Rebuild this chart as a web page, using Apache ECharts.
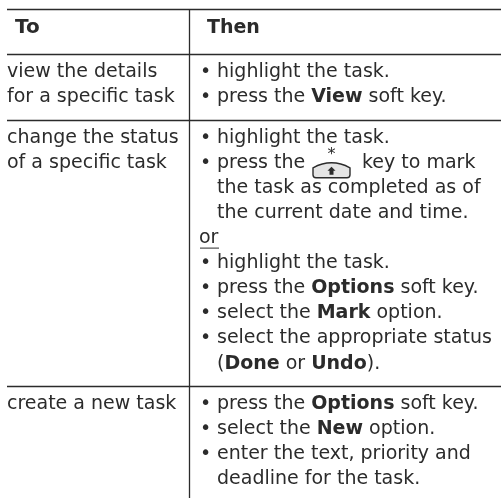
<!DOCTYPE html>
<html>
<head>
<meta charset="utf-8">
<style>html,body{margin:0;padding:0;background:#fff}#main{width:501px;height:498px}</style>
<script src="https://cdn.jsdelivr.net/npm/echarts@6/dist/echarts.min.js"></script>
</head>
<body>
<div id="main"></div>
<script>
// table text, one list per column, ** marks bold, "- " marks a bullet
var headers = ['To', 'Then'];
var taskRows = [
    ['view the details', 'for a specific task'],
    ['change the status', 'of a specific task'],
    ['create a new task']
];
var stepRows = [
    ['- highlight the task.', '- press the **View** soft key.'],
    ['- highlight the task.', '- press the @key key to mark', '  the task as completed as of', '  the current date and time.', '_or', '- highlight the task.', '- press the **Options** soft key.', '- select the **Mark** option.', '- select the appropriate status', '  (**Done** or **Undo**).'],
    ['- press the **Options** soft key.', '- select the **New** option.', '- enter the text, priority and', '  deadline for the task.']
];

var INK = '#2b2b2b';
var FONT = '"DejaVu Sans"';
var SIZE = 19;
var LINE_H = 25.1;
var TOP = 9, HEAD_BOTTOM = 54, COL_X = 189;

// rich text pieces from **bold** markup
function toRich(s) {
    return s.split('**').map(function (p, i) {
        if (!p) return '';
        return (i % 2 ? '{b|' : '{n|') + p + '}';
    }).join('');
}

// flatten rows into line records
var lines = [];
var rules = [TOP, HEAD_BOTTOM];
var rowTop = HEAD_BOTTOM;
stepRows.forEach(function (steps, r) {
    taskRows[r].forEach(function (t, i) {
        lines.push({ x: 7, y: rowTop + 18 + i * LINE_H, text: t });
    });
    steps.forEach(function (t, i) {
        lines.push({ x: 199, y: rowTop + 18 + i * LINE_H, text: t });
    });
    rowTop += steps.length * LINE_H + 15.5;
    if (r < stepRows.length - 1) rules.push(Math.round(rowTop));
});

var myChart = echarts.init(document.getElementById('main'), null, { renderer: 'canvas' });

function textEl(x, y, text, extra) {
    var st = {
        x: x, y: y, text: text, fill: INK, verticalAlign: 'middle',
        font: SIZE + 'px ' + FONT,
        rich: {
            n: { font: SIZE + 'px ' + FONT, fill: INK },
            b: { font: 'bold ' + SIZE + 'px ' + FONT, fill: INK }
        }
    };
    return { type: 'text', style: Object.assign(st, extra || {}) };
}

function renderLine(params, api) {
    var rec = lines[params.dataIndex];
    var p = api.coord([api.value(0), api.value(1)]);
    var s = rec.text, kids = [];
    if (s.indexOf('- ') === 0) {
        kids.push(textEl(p[0] + 1, p[1], '\u2022'));
        s = s.slice(2);
        p = [p[0] + 18, p[1]];
    } else if (s.indexOf('  ') === 0) {
        s = s.slice(2);
        p = [p[0] + 18, p[1]];
    }
    if (s.charAt(0) === '_') {
        s = s.slice(1);
        kids.push({ type: 'line', shape: { x1: p[0] + 1, y1: p[1] + 10, x2: p[0] + 20, y2: p[1] + 10 }, style: { stroke: INK, lineWidth: 1 } });
    }
    var k = s.indexOf('@key');
    if (k >= 0) {
        // soft key icon sits between the two text pieces
        kids.push(textEl(p[0], p[1], s.slice(0, k)));
        kids.push(keyIcon(p[0] + 96, p[1]));
        kids.push(textEl(p[0] + 145, p[1], s.slice(k + 5)));
    } else {
        kids.push(textEl(p[0], p[1], toRich(s)));
    }
    return { type: 'group', children: kids };
}

function keyIcon(x, y) {
    var w = 37, m = x + w / 2;
    var body = 'M' + x + ' ' + (y + 5) +
        'Q' + m + ' ' + (y - 5) + ' ' + (x + w) + ' ' + (y + 5) +
        'L' + (x + w) + ' ' + (y + 12) + 'Q' + (x + w) + ' ' + (y + 15) + ' ' + (x + w - 3) + ' ' + (y + 15) +
        'L' + (x + 3) + ' ' + (y + 15) + 'Q' + x + ' ' + (y + 15) + ' ' + x + ' ' + (y + 12) + 'Z';
    var arrow = 'M' + m + ' ' + (y + 4) + 'L' + (m + 4) + ' ' + (y + 8) + 'L' + (m + 2) + ' ' + (y + 8) +
        'L' + (m + 2) + ' ' + (y + 12) + 'L' + (m - 2) + ' ' + (y + 12) + 'L' + (m - 2) + ' ' + (y + 8) + 'L' + (m - 4) + ' ' + (y + 8) + 'Z';
    return {
        type: 'group', children: [
            { type: 'path', shape: { pathData: body }, style: { stroke: INK, fill: '#e4e4e4', lineWidth: 1.4 } },
            { type: 'path', shape: { pathData: arrow }, style: { fill: INK } },
            textEl(m, y - 8, '*', { align: 'center', font: '16px ' + FONT })
        ]
    };
}

var option = {
    animation: false,
    grid: { left: 0, right: 0, top: 0, bottom: 0 },
    xAxis: { type: 'value', min: 0, max: 501, show: false },
    yAxis: { type: 'value', min: 0, max: 498, inverse: true, show: false },
    series: [
        {
            type: 'custom', silent: true, clip: false,
            data: rules.map(function (y) { return [y]; }),
            renderItem: function (params, api) {
                var a = api.coord([7, api.value(0)]), b = api.coord([501, api.value(0)]);
                return { type: 'line', shape: { x1: a[0], y1: a[1] + 0.5, x2: b[0], y2: b[1] + 0.5 }, style: { stroke: '#2b2b2b', lineWidth: 1.3 } };
            }
        },
        {
            type: 'custom', silent: true, clip: false,
            data: [[COL_X]],
            renderItem: function (params, api) {
                var a = api.coord([api.value(0), TOP]), b = api.coord([api.value(0), 498]);
                return { type: 'line', shape: { x1: a[0] + 0.5, y1: a[1], x2: b[0] + 0.5, y2: b[1] }, style: { stroke: '#2b2b2b', lineWidth: 1.3 } };
            }
        },
        {
            type: 'custom', silent: true, clip: false,
            data: headers.map(function (h, i) { return [i ? 207 : 15, 28]; }),
            renderItem: function (params, api) {
                var p = api.coord([api.value(0), api.value(1)]);
                return textEl(p[0], p[1], headers[params.dataIndex], { font: 'bold ' + (params.dataIndex ? 19 : 20) + 'px ' + FONT });
            }
        },
        {
            type: 'custom', silent: true, clip: false,
            data: lines.map(function (l) { return [l.x, l.y]; }),
            renderItem: renderLine
        }
    ]
};
myChart.setOption(option);
</script>
</body>
</html>
